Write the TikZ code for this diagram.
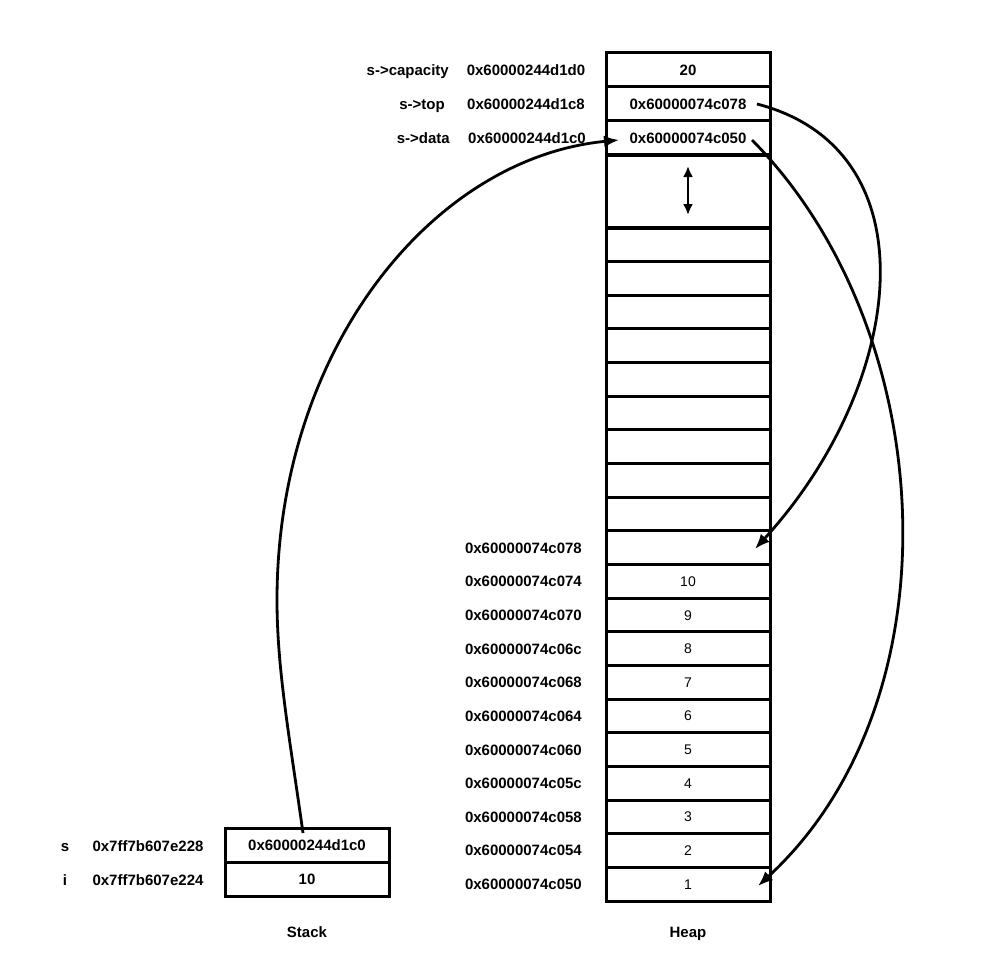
\documentclass[tikz,border=0pt]{standalone}
\usepackage{fontspec}
\setmainfont{Liberation Sans}
\usetikzlibrary{arrows.meta}
\tikzset{
  cell/.style={draw=black,line width=3pt,minimum width=164pt,minimum height=33.65pt,inner sep=0pt,outer sep=0pt,text height=10.8pt,text depth=0pt,font=\fontsize{15}{18}\selectfont\bfseries},
  numcell/.style={cell,text height=10pt,font=\fontsize{14}{17}\selectfont},
  lbl/.style={inner sep=0pt,text height=10.8pt,text depth=0pt,font=\fontsize{15}{18}\selectfont\bfseries},
  ptr/.style={line width=2.8pt,-{Latex[length=15pt,width=12pt]}}
}
\begin{document}
\begin{tikzpicture}[x=1pt,y=-1pt]
\useasboundingbox[fill=white] (0,0) rectangle (993,971);
% Heap: struct fields
\node[cell,minimum height=34pt] (cap) at (688,70) {20};
\node[cell,minimum height=34pt] (top) at (688,104) {0x60000074c078};
\node[cell,minimum height=34pt] (data) at (688,138) {0x60000074c050};
\node[lbl,anchor=east] (cap-name) at (449,70) {s->capacity};
\node[lbl] (cap-addr) at (526,70) {0x60000244d1d0};
\node[lbl,anchor=east] (top-name) at (445,104) {s->top};
\node[lbl] (top-addr) at (526,104) {0x60000244d1c8};
\node[lbl,anchor=east] (data-name) at (450,138) {s->data};
\node[lbl] (data-addr) at (527,138) {0x60000244d1c0};
% Heap: gap
\node[cell,minimum height=73pt] (gap) at (688,191.5) {};
\coordinate (gap-hi) at (688,166);
\coordinate (gap-lo) at (688,215);
\draw[line width=2.6pt,{Latex[length=11pt,width=10pt]}-{Latex[length=11pt,width=10pt]}] (gap-hi) -- (gap-lo);
% Heap: empty cells
\node[cell] (h1) at (688,244.8) {};
\node[cell] (h2) at (688,278.5) {};
\node[cell] (h3) at (688,312.1) {};
\node[cell] (h4) at (688,345.8) {};
\node[cell] (h5) at (688,379.4) {};
\node[cell] (h6) at (688,413.1) {};
\node[cell] (h7) at (688,446.7) {};
\node[cell] (h8) at (688,480.4) {};
\node[cell] (h9) at (688,514.0) {};
% Heap: array cells
\node[cell] (c078) at (688,547.7) {};
\node[numcell] (c074) at (688,581.3) {10};
\node[numcell] (c070) at (688,615.0) {9};
\node[numcell] (c06c) at (688,648.6) {8};
\node[numcell] (c068) at (688,682.3) {7};
\node[numcell] (c064) at (688,715.9) {6};
\node[numcell] (c060) at (688,749.6) {5};
\node[numcell] (c05c) at (688,783.2) {4};
\node[numcell] (c058) at (688,816.9) {3};
\node[numcell] (c054) at (688,850.5) {2};
\node[numcell] (c050) at (688,884.2) {1};
% Heap: addresses
\node[lbl,anchor=east] (a078) at (582,547.7) {0x60000074c078};
\node[lbl,anchor=east] (a074) at (582,581.3) {0x60000074c074};
\node[lbl,anchor=east] (a070) at (582,615.0) {0x60000074c070};
\node[lbl,anchor=east] (a06c) at (582,648.6) {0x60000074c06c};
\node[lbl,anchor=east] (a068) at (582,682.3) {0x60000074c068};
\node[lbl,anchor=east] (a064) at (582,715.9) {0x60000074c064};
\node[lbl,anchor=east] (a060) at (582,749.6) {0x60000074c060};
\node[lbl,anchor=east] (a05c) at (582,783.2) {0x60000074c05c};
\node[lbl,anchor=east] (a058) at (582,816.9) {0x60000074c058};
\node[lbl,anchor=east] (a054) at (582,850.5) {0x60000074c054};
\node[lbl,anchor=east] (a050) at (582,884.2) {0x60000074c050};
% Stack
\node[cell,minimum height=34pt] (stk-s) at (307,845) {0x60000244d1c0};
\node[cell,minimum height=34pt] (stk-i) at (307,879) {10};
\node[lbl] (s-name) at (65,846) {s};
\node[lbl] (s-addr) at (148,846) {0x7ff7b607e228};
\node[lbl] (i-name) at (65,880) {i};
\node[lbl] (i-addr) at (148,880) {0x7ff7b607e224};
% Captions
\node[lbl] (stack-cap) at (307,932) {Stack};
\node[lbl] (heap-cap) at (688,932) {Heap};
% Pointers
\coordinate (s-from) at (303,833);
\coordinate (data-to) at (619,140);
\coordinate (top-from) at (757,104);
\coordinate (top-to) at (755,549);
\coordinate (data-from) at (752,140);
\coordinate (data-end) at (758,886);
\draw[ptr] (s-from) .. controls (290,740) and (277,670) .. (277,600)
  .. controls (277,350) and (432,158) .. (data-to);
\draw[ptr] (top-from) .. controls (935,150) and (905,385) .. (top-to);
\draw[ptr] (data-from) .. controls (940,330) and (960,700) .. (data-end);
\end{tikzpicture}
\end{document}
